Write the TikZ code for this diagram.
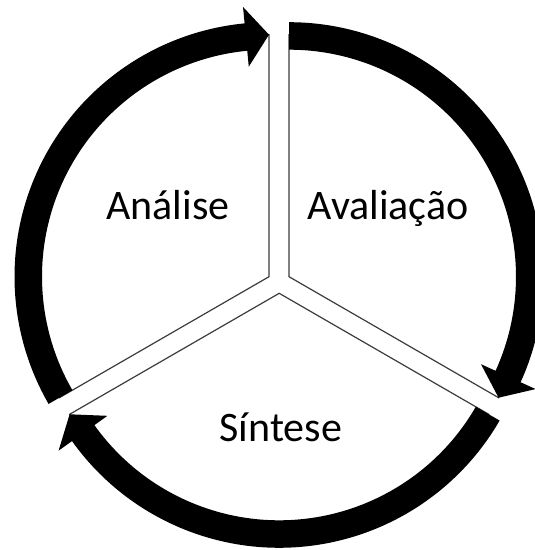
\documentclass[tikz,border=0pt]{standalone}
\usepackage{fontspec}
\setmainfont{Carlito}
\definecolor{edgegray}{RGB}{60,60,60}
\newcommand\SegPiece[6]{%
  % #1 centre, #2 pie low angle, #3 pie high angle, #4 tail angle, #5 head base angle, #6 tip angle
  \begin{scope}[shift={#1}]
    \filldraw[piece] (0,0) -- (#2:\Rm) arc[start angle=#2, end angle=#3, radius=\Rm] -- cycle;
    \fill[band] (#4:\Ri) arc[start angle=#4, end angle=#5, radius=\Ri]
      -- (#5:\Hi) -- (#6:\Rm) -- (#5:\Ho) -- (#5:\Ro)
      arc[start angle=#5, end angle=#4, radius=\Ro] -- cycle;
  \end{scope}}
\begin{document}
\begin{tikzpicture}[x=1pt,y=1pt,
  piece/.style={fill=white, draw=edgegray, line width=1.2pt, line join=miter},
  band/.style={fill=black},
  lbl/.style={font=\fontsize{42}{50}\selectfont, anchor=base, inner sep=0pt}]
\useasboundingbox (0,0) rectangle (535,550);
\clip (0,0) rectangle (535,550);
\def\Ri{227}\def\Ro{254.5}\def\Rm{242}\def\Hi{211}\def\Ho{271}
\SegPiece{(269,273.3)}{90}{210}{210}{95.5}{90}
\SegPiece{(289,273.3)}{-30}{90}{90}{-24.5}{-30}
\SegPiece{(279.2,256.7)}{210}{330}{330}{215.5}{210}
\node[lbl] (analise) at (168,330.8) {Análise};
\node[lbl] (avaliacao) at (388,330.8) {Avaliação};
\node[lbl] (sintese) at (280.8,108.8) {Síntese};
\end{tikzpicture}
\end{document}
